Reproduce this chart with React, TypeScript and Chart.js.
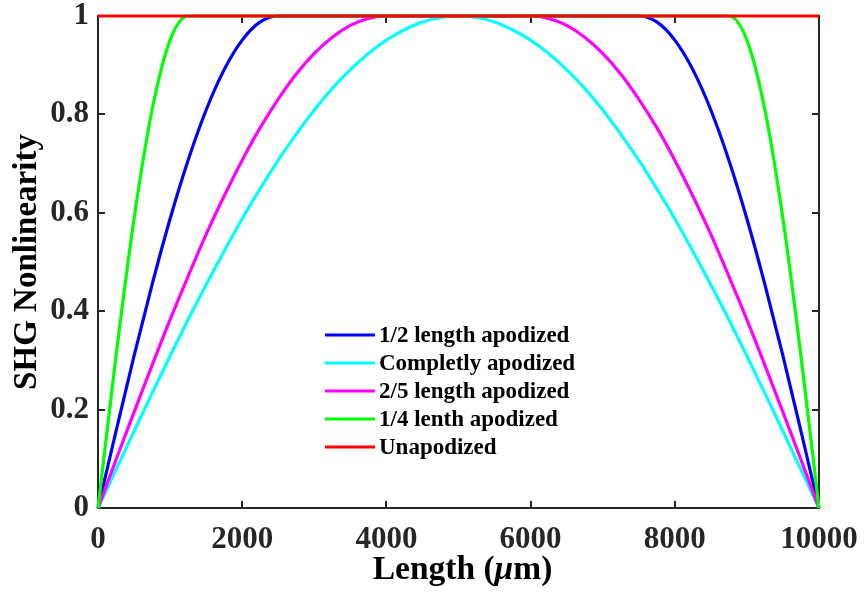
import React, { useEffect, useRef } from "react";
import { Chart, registerables } from "chart.js";

Chart.register(...registerables);

// Length positions (µm)
const X_VALUES = [
  0, 250, 500, 750, 1000, 1250, 1500, 1750, 2000, 2250, 2500, 2750, 3000, 3250,
  3500, 3750, 4000, 4250, 4500, 4750, 5000, 5250, 5500, 5750, 6000, 6250, 6500,
  6750, 7000, 7250, 7500, 7750, 8000, 8250, 8500, 8750, 9000, 9250, 9500, 9750,
  10000,
];

const HALF_APODIZED = [
  0, 0.156, 0.309, 0.454, 0.588, 0.707, 0.809, 0.891, 0.951, 0.988,
  1, 1, 1, 1, 1, 1, 1, 1, 1, 1, 1, 1, 1, 1, 1, 1, 1, 1, 1, 1, 1,
  0.988, 0.951, 0.891, 0.809, 0.707, 0.588, 0.454, 0.309, 0.156, 0,
];

const COMPLETELY_APODIZED = [
  0, 0.078, 0.156, 0.233, 0.309, 0.383, 0.454, 0.522, 0.588, 0.649, 0.707,
  0.76, 0.809, 0.853, 0.891, 0.924, 0.951, 0.972, 0.988, 0.997, 1,
  0.997, 0.988, 0.972, 0.951, 0.924, 0.891, 0.853, 0.809, 0.76, 0.707, 0.649,
  0.588, 0.522, 0.454, 0.383, 0.309, 0.233, 0.156, 0.078, 0,
];

const TWO_FIFTHS_APODIZED = [
  0, 0.098, 0.195, 0.29, 0.383, 0.471, 0.556, 0.634, 0.707, 0.773, 0.831,
  0.882, 0.924, 0.957, 0.981, 0.995, 1,
  1, 1, 1, 1, 1, 1, 1, 1,
  0.995, 0.981, 0.957, 0.924, 0.882, 0.831, 0.773, 0.707, 0.634, 0.556, 0.471,
  0.383, 0.29, 0.195, 0.098, 0,
];

const QUARTER_APODIZED = [
  0, 0.309, 0.588, 0.809, 0.951,
  1, 1, 1, 1, 1, 1, 1, 1, 1, 1, 1, 1, 1, 1, 1, 1, 1, 1, 1, 1, 1, 1, 1, 1, 1,
  1, 1, 1, 1, 1, 1,
  0.951, 0.809, 0.588, 0.309, 0,
];

const UNAPODIZED_X = [0, 10000];
const UNAPODIZED = [1, 1];

const SERIES_LABELS = [
  "1/2 length apodized",
  "Completly apodized",
  "2/5 length apodized",
  "1/4 lenth apodized",
  "Unapodized",
];
const SERIES_COLORS = ["#0000FF", "#00FFFF", "#FF00FF", "#00FF00", "#FF0000"];

const X_MIN = 0;
const X_MAX = 10000;
const X_STEP = 2000;
const Y_MIN = 0;
const Y_MAX = 1;
const Y_STEP = 0.2;

const X_TITLE_PARTS = [
  { text: "Length (", italic: false },
  { text: "\u03BC", italic: true },
  { text: "m)", italic: false },
];
const Y_TITLE = "SHG Nonlinearity";

const FONT_FAMILY = '"Liberation Serif", "Times New Roman", serif';
const AXIS_COLOR = "#262626";

const toPoints = (xs: number[], ys: number[]) =>
  xs.map((x, i) => ({ x, y: ys[i] }));

const fmtTick = (v: number | string) => String(Math.round(Number(v) * 10) / 10);

const framePlugin = {
  id: "frame",
  beforeDatasetsDraw(chart: any) {
    const { ctx, chartArea, scales } = chart;
    const { left, right, top, bottom } = chartArea;
    const xs = scales.x;
    const ys = scales.y;
    ctx.save();
    ctx.strokeStyle = AXIS_COLOR;
    ctx.lineWidth = 2;
    ctx.strokeRect(left, top, right - left, bottom - top);
    ctx.beginPath();
    const tl = 7;
    xs.ticks.forEach((t: any) => {
      const px = Math.round(xs.getPixelForValue(t.value));
      ctx.moveTo(px, bottom);
      ctx.lineTo(px, bottom - tl);
      ctx.moveTo(px, top);
      ctx.lineTo(px, top + tl);
    });
    ys.ticks.forEach((t: any) => {
      const py = Math.round(ys.getPixelForValue(t.value));
      ctx.moveTo(left, py);
      ctx.lineTo(left + tl, py);
      ctx.moveTo(right, py);
      ctx.lineTo(right - tl, py);
    });
    ctx.stroke();
    ctx.restore();
  },
  afterDraw(chart: any) {
    const { ctx, chartArea } = chart;
    const { left, right, top, bottom } = chartArea;
    ctx.save();
    ctx.fillStyle = "#000000";
    // Y title
    ctx.save();
    ctx.translate(27, (top + bottom) / 2);
    ctx.rotate(-Math.PI / 2);
    ctx.font = `bold 33px ${FONT_FAMILY}`;
    ctx.textAlign = "center";
    ctx.textBaseline = "middle";
    ctx.fillText(Y_TITLE, 0, 0);
    ctx.restore();
    // X title
    const fonts = X_TITLE_PARTS.map((p) =>
      p.italic ? `italic bold 33.5px ${FONT_FAMILY}` : `bold 33.5px ${FONT_FAMILY}`
    );
    let total = 0;
    const widths = X_TITLE_PARTS.map((p, i) => {
      ctx.font = fonts[i];
      const w = ctx.measureText(p.text).width;
      total += w;
      return w;
    });
    let cx = (left + right) / 2 + 4 - total / 2;
    ctx.textAlign = "left";
    ctx.textBaseline = "alphabetic";
    X_TITLE_PARTS.forEach((p, i) => {
      ctx.font = fonts[i];
      ctx.fillText(p.text, cx, 579);
      cx += widths[i];
    });
    // Legend
    const lx0 = 325;
    const lx1 = 375;
    const rowY0 = 335;
    const rowGap = 28;
    ctx.font = `bold 23px ${FONT_FAMILY}`;
    ctx.textBaseline = "middle";
    SERIES_LABELS.forEach((label, i) => {
      const yy = rowY0 + i * rowGap;
      ctx.strokeStyle = SERIES_COLORS[i];
      ctx.lineWidth = 3;
      ctx.beginPath();
      ctx.moveTo(lx0, yy);
      ctx.lineTo(lx1, yy);
      ctx.stroke();
      ctx.fillStyle = "#000000";
      ctx.fillText(label, 379, yy + 1);
    });
    ctx.restore();
  },
};

export default function App() {
  const canvasRef = useRef<HTMLCanvasElement | null>(null);

  useEffect(() => {
    document.body.style.margin = "0";
    const canvas = canvasRef.current;
    if (!canvas) return;
    const seriesData = [
      toPoints(X_VALUES, HALF_APODIZED),
      toPoints(X_VALUES, COMPLETELY_APODIZED),
      toPoints(X_VALUES, TWO_FIFTHS_APODIZED),
      toPoints(X_VALUES, QUARTER_APODIZED),
      toPoints(UNAPODIZED_X, UNAPODIZED),
    ];
    const chart = new Chart(canvas, {
      type: "line",
      data: {
        datasets: seriesData.map((d, i) => ({
          label: SERIES_LABELS[i],
          data: d,
          borderColor: SERIES_COLORS[i],
          backgroundColor: SERIES_COLORS[i],
          borderWidth: 3.2,
          pointRadius: 0,
          fill: false,
          cubicInterpolationMode: "monotone" as const,
          clip: 6,
          order: 5 - i,
        })),
      },
      options: {
        responsive: false,
        animation: false,
        devicePixelRatio: 1,
        layout: { padding: { top: 16, right: 46, left: 0, bottom: 0 } },
        plugins: {
          legend: { display: false },
          tooltip: { enabled: false },
          title: { display: false },
        },
        scales: {
          x: {
            type: "linear",
            min: X_MIN,
            max: X_MAX,
            grid: { display: false, drawTicks: false },
            border: { display: false },
            ticks: {
              stepSize: X_STEP,
              color: AXIS_COLOR,
              padding: 16,
              maxRotation: 0,
              callback: (v: any) => fmtTick(v),
              font: { family: FONT_FAMILY, size: 31, weight: "bold", lineHeight: 1 },
            },
            afterFit(scale: any) {
              scale.height = 87;
              scale.paddingLeft = 0;
              scale.paddingRight = 0;
            },
          },
          y: {
            type: "linear",
            min: Y_MIN,
            max: Y_MAX,
            grid: { display: false, drawTicks: false },
            border: { display: false },
            ticks: {
              stepSize: Y_STEP,
              color: AXIS_COLOR,
              padding: 9,
              callback: (v: any) => fmtTick(v),
              font: { family: FONT_FAMILY, size: 31, weight: "bold", lineHeight: 1 },
            },
            afterFit(scale: any) {
              scale.width = 98;
              scale.paddingTop = 0;
              scale.paddingBottom = 0;
            },
          },
        },
      },
      plugins: [framePlugin],
    });
    return () => chart.destroy();
  }, []);

  return (
    <div style={{ position: "absolute", left: 0, top: 0, width: 865, height: 595, background: "#ffffff" }}>
      <canvas ref={canvasRef} width={865} height={595} style={{ width: 865, height: 595 }} />
    </div>
  );
}
